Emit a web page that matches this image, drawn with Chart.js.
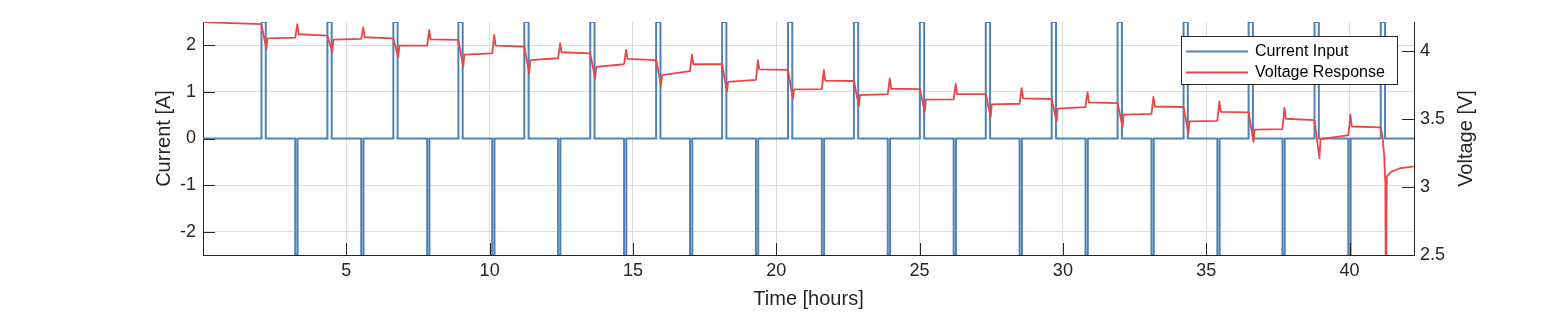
<!DOCTYPE html>
<html><head><meta charset="utf-8">
<script src="https://cdn.jsdelivr.net/npm/chart.js@4.4.1/dist/chart.umd.min.js"></script>
<style>html,body{margin:0;padding:0;background:#fff;overflow:hidden}canvas{display:block}</style>
</head><body>
<canvas id="c" width="1563" height="312"></canvas>
<script>
// ---- tick labels ----
const xTicks = [5, 10, 15, 20, 25, 30, 35, 40];
const currentTicks = [-2, -1, 0, 1, 2];
const voltageTicks = [2.5, 3, 3.5, 4];

// ---- current input (hours, amps) ----
const chargePulseTimes = [2.04, 4.34, 6.64, 8.91, 11.21, 13.51, 15.81, 18.11, 20.41, 22.71, 25.01, 27.31, 29.61, 31.91, 34.21, 36.48, 38.78, 41.09];
const chargePulseAmps = [2.5, 2.5, 2.5, 2.5, 2.5, 2.5, 2.5, 2.5, 2.5, 2.5, 2.5, 2.5, 2.5, 2.5, 2.5, 2.5, 2.5, 2.5];
const chargePulseLength = 0.15;
const reversePulseTimes = [3.22, 5.52, 7.82, 10.09, 12.39, 14.69, 16.99, 19.29, 21.59, 23.89, 26.19, 28.49, 30.79, 33.09, 35.39, 37.66, 39.96];
const reversePulseAmps = [-2.5, -2.5, -2.5, -2.5, -2.5, -2.5, -2.5, -2.5, -2.5, -2.5, -2.5, -2.5, -2.5, -2.5, -2.5, -2.5, -2.5];
const reversePulseLength = 0.08;

// ---- voltage response (volts) read per cycle ----
const vStart = 4.209;
const vBefore  = [4.194, 4.11, 4.09, 4.079, 4.03, 3.98, 3.93, 3.90, 3.858, 3.777, 3.718, 3.68, 3.645, 3.614, 3.586, 3.546, 3.49, 3.436];
const vDip     = [4.01, 3.99, 3.95, 3.88, 3.834, 3.797, 3.748, 3.70, 3.645, 3.593, 3.55, 3.515, 3.48, 3.44, 3.39, 3.33, 3.21];
const vRecover = [4.09, 4.08, 4.037, 3.97, 3.93, 3.88, 3.82, 3.77, 3.715, 3.674, 3.64, 3.605, 3.574, 3.53, 3.48, 3.42, 3.35];
const vPreRev  = [4.096, 4.086, 4.037, 3.98, 3.944, 3.90, 3.85, 3.785, 3.718, 3.68, 3.642, 3.61, 3.585, 3.535, 3.485, 3.424, 3.38];
const vSpike   = [4.194, 4.17, 4.15, 4.115, 4.054, 4.005, 3.97, 3.93, 3.858, 3.797, 3.755, 3.724, 3.696, 3.66, 3.627, 3.58, 3.53];
const vSettle  = [4.12, 4.098, 4.083, 4.037, 3.988, 3.94, 3.90, 3.863, 3.78, 3.72, 3.68, 3.65, 3.62, 3.59, 3.55, 3.50, 3.443];
// final collapse after last pulse
const tailTimes  = [41.15, 41.21, 41.25, 41.27, 41.30, 41.45, 41.74, 42.25];
const tailVolts  = [3.37, 3.23, 3.03, 2.0, 3.076, 3.11, 3.135, 3.15];

const tEnd = 42.25;

// ---- build series ----
const events = [];
chargePulseTimes.forEach((t, i) => events.push({t, a: chargePulseAmps[i], w: chargePulseLength}));
reversePulseTimes.forEach((t, i) => events.push({t, a: reversePulseAmps[i], w: reversePulseLength}));
events.sort((p, q) => p.t - q.t);
const currentPts = [{x: 0, y: 0}];
events.forEach(e => {
  currentPts.push({x: e.t, y: 0}, {x: e.t, y: e.a}, {x: e.t + e.w, y: e.a}, {x: e.t + e.w, y: 0});
});
currentPts.push({x: tEnd, y: 0});

const voltagePts = [{x: 0, y: vStart}];
vDip.forEach((d, k) => {
  const p = chargePulseTimes[k], n = reversePulseTimes[k];
  voltagePts.push(
    {x: p, y: vBefore[k]},
    {x: p + 0.17, y: d},
    {x: p + 0.21, y: vRecover[k]},
    {x: n, y: vPreRev[k]},
    {x: n + 0.07, y: vSpike[k]},
    {x: n + 0.12, y: vSettle[k]}
  );
});
voltagePts.push({x: chargePulseTimes[17], y: vBefore[17]});
tailTimes.forEach((t, i) => voltagePts.push({x: t, y: tailVolts[i]}));

const FONT = "'Liberation Sans', Arial, Helvetica, sans-serif";
const AX = '#262626';
const BLUE = '#5083b3';
const RED = '#ea4646';

const inwardTicks = {
  id: 'inwardTicks',
  afterDatasetsDraw(chart) {
    const {ctx, chartArea: a, scales} = chart;
    const L = 12;
    ctx.save();
    ctx.strokeStyle = AX; ctx.lineWidth = 1;
    ctx.beginPath();
    scales.x.ticks.forEach(t => { const px = Math.round(scales.x.getPixelForValue(t.value)) + 0.5; ctx.moveTo(px, a.bottom); ctx.lineTo(px, a.bottom - L); });
    scales.y.ticks.forEach(t => { const py = Math.round(scales.y.getPixelForValue(t.value)) + 0.5; ctx.moveTo(a.left, py); ctx.lineTo(a.left + L, py); });
    scales.y1.ticks.forEach(t => { const py = Math.round(scales.y1.getPixelForValue(t.value)) + 0.5; ctx.moveTo(a.right, py); ctx.lineTo(a.right - L, py); });
    ctx.stroke();
    // right title, reading upward
    const tt = chart.options.scales.y1.title;
    ctx.fillStyle = AX;
    ctx.font = '20px ' + FONT;
    ctx.textAlign = 'center'; ctx.textBaseline = 'middle';
    ctx.translate(1466, (a.top + a.bottom) / 2);
    ctx.rotate(-Math.PI / 2);
    ctx.fillText(tt.text, 0, 0);
    ctx.restore();
  }
};

const boxLegend = {
  id: 'boxLegend',
  afterDraw(chart) {
    const {ctx} = chart;
    const x = 1181, y = 36, w = 217, h = 49;
    ctx.save();
    ctx.fillStyle = '#fff';
    ctx.fillRect(x, y, w, h);
    ctx.strokeStyle = AX; ctx.lineWidth = 1;
    ctx.strokeRect(x + 0.5, y + 0.5, w - 1, h - 1);
    ctx.font = '16px ' + FONT;
    ctx.textBaseline = 'middle'; ctx.textAlign = 'left';
    chart.data.datasets.forEach((ds, i) => {
      const ry = y + 15.5 + i * 21;
      ctx.strokeStyle = ds.borderColor; ctx.lineWidth = ds.borderWidth;
      ctx.beginPath(); ctx.moveTo(x + 5, ry); ctx.lineTo(x + 67, ry); ctx.stroke();
      ctx.fillStyle = '#000';
      ctx.fillText(ds.label, x + 74, ry + 0.5);
    });
    ctx.restore();
  }
};

new Chart(document.getElementById('c'), {
  type: 'line',
  data: {
    datasets: [
      {label: 'Current Input', data: currentPts, yAxisID: 'y', borderColor: BLUE, borderWidth: 2, pointRadius: 0, tension: 0, order: 2, borderJoinStyle: 'round'},
      {label: 'Voltage Response', data: voltagePts, yAxisID: 'y1', borderColor: RED, borderWidth: 1.8, pointRadius: 0, tension: 0, order: 1, borderJoinStyle: 'round'}
    ]
  },
  options: {
    responsive: false, animation: false, devicePixelRatio: 1,
    layout: {padding: {top: 22, left: 0, right: 0, bottom: 0}},
    plugins: {legend: {display: false}, tooltip: {enabled: false}},
    scales: {
      x: {
        type: 'linear', position: 'bottom', min: 0, max: tEnd,
        afterBuildTicks: s => { s.ticks = xTicks.map(v => ({value: v})); },
        afterFit: s => { s.height = 57; },
        grid: {color: '#dcdcdc', drawTicks: false},
        border: {color: AX, width: 1},
        ticks: {font: {family: FONT, size: 18}, color: AX, padding: 5, maxRotation: 0, callback: v => String(v)},
        title: {display: true, text: 'Time [hours]', font: {family: FONT, size: 20}, color: AX, padding: {top: 0, bottom: 1}}
      },
      y: {
        type: 'linear', position: 'left', min: -2.5, max: 2.5,
        afterBuildTicks: s => { s.ticks = currentTicks.map(v => ({value: v})); },
        afterFit: s => { s.width = 203; },
        grid: {color: '#dcdcdc', drawTicks: false},
        border: {color: AX, width: 1},
        ticks: {font: {family: FONT, size: 18}, color: AX, padding: 7, callback: v => String(v)},
        title: {display: true, text: 'Current [A]', font: {family: FONT, size: 20}, color: AX, padding: {top: 152, bottom: 0}}
      },
      y1: {
        type: 'linear', position: 'right', min: 2.5, max: 4.21,
        afterBuildTicks: s => { s.ticks = voltageTicks.map(v => ({value: v})); },
        afterFit: s => { s.width = 149; },
        grid: {display: true, drawOnChartArea: false, drawTicks: false},
        border: {color: AX, width: 1},
        ticks: {font: {family: FONT, size: 18}, color: AX, padding: 6, callback: v => String(v)},
        title: {display: false, text: 'Voltage [V]'}
      }
    }
  },
  plugins: [inwardTicks, boxLegend]
});
</script>
</body></html>
